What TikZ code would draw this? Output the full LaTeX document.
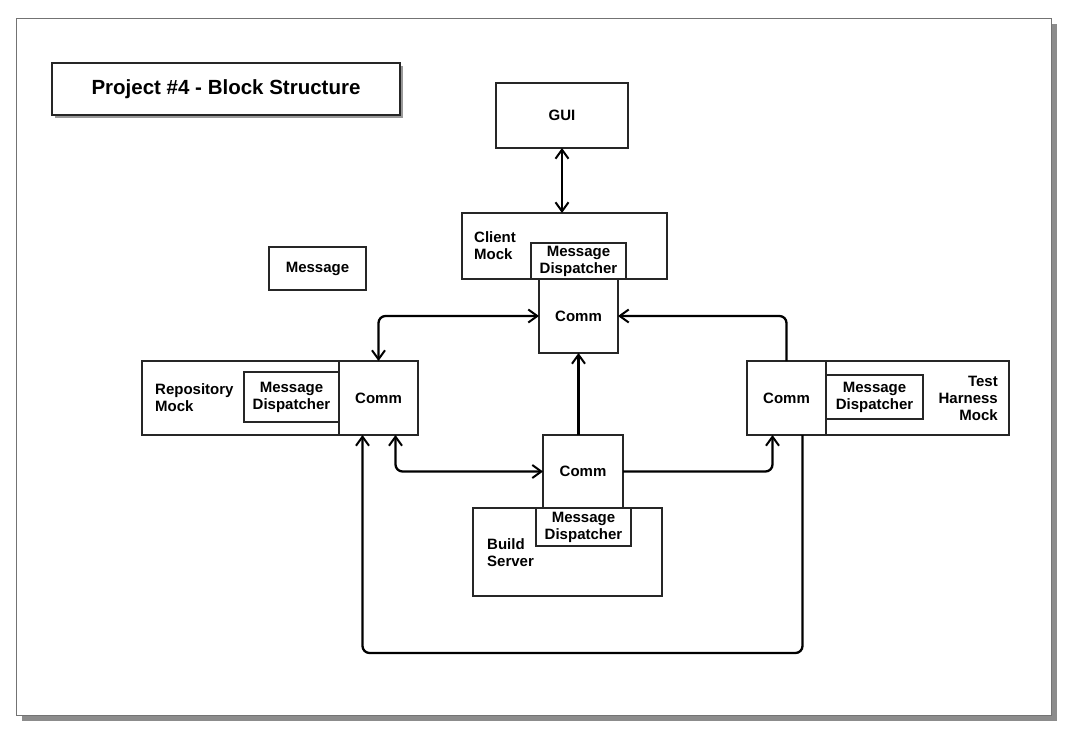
\documentclass[tikz,border=0pt]{standalone}
\usepackage{fontspec}
\setmainfont{Liberation Sans}
\usetikzlibrary{arrows.meta}
\tikzset{
  box/.style={draw=black!85, line width=1.3pt, fill=white, inner sep=0pt, outer sep=0pt,
    font=\bfseries\fontsize{15}{17}\selectfont, align=center},
  conn/.style={draw=black, line width=2.3pt, rounded corners=7pt,
    arrows={-}, >={Straight Barb[length=9pt,width=13pt,line width=2pt]}},
}
\newcommand{\bx}[6]{% name, x1, y1, x2, y2, text
  \node[box, minimum width={(#4-#2)*1pt}, minimum height={(#5-#3)*1pt}] (#1) at ({(#2+#4)/2},{(#3+#5)/2}) {#6};}
\begin{document}
\begin{tikzpicture}[x=1pt,y=-1pt]
\useasboundingbox (0,0) rectangle (1083,742);
% page frame
\fill[black!45] (22,24) rectangle (1057,721);
\draw[fill=white, draw=black!55, line width=1pt] (16,18) rectangle (1051,715);
% title
\fill[black!40] (55,66) rectangle (403,118);
\node[box, minimum width=348pt, minimum height=52pt, font=\bfseries\fontsize{20.5}{24}\selectfont] (title) at (226,89) {Project \#4 - Block Structure};
% GUI
\bx{gui}{496}{83}{628}{148}{GUI}
% Message
\bx{msg}{269}{247}{366}{290}{Message}
% Client Mock
\bx{cm}{462}{213}{667}{279}{}
\node[font=\bfseries\fontsize{15}{17}\selectfont, align=left, anchor=north west, inner sep=0pt] (cmlab) at (474,231) {Client\\Mock};
\bx{cd}{531}{243}{626}{279}{Message\\Dispatcher}
\bx{cc}{539}{279}{618}{353}{Comm}
% Repository Mock
\bx{rm}{142}{361}{339}{435}{}
\node[font=\bfseries\fontsize{15}{17}\selectfont, align=left, anchor=west, inner sep=0pt] (rmlab) at (155,398) {Repository\\Mock};
\bx{rd}{244}{372}{339}{422}{Message\\Dispatcher}
\bx{rc}{339}{361}{418}{435}{Comm}
% Test Harness Mock
\bx{tm}{826}{361}{1009}{435}{}
\node[font=\bfseries\fontsize{15}{17}\selectfont, align=right, anchor=east, inner sep=0pt] (tmlab) at (998,398) {Test\\Harness\\Mock};
\bx{td}{826}{375}{923}{419}{Message\\Dispatcher}
\bx{tc}{747}{361}{826}{435}{Comm}
% Build Server
\bx{bm}{473}{508}{662}{596}{}
\node[font=\bfseries\fontsize{15}{17}\selectfont, align=left, anchor=west, inner sep=0pt] (bmlab) at (487,553) {Build\\Server};
\bx{bc}{543}{435}{623}{508}{Comm}
\bx{bd}{536}{508}{631}{546}{Message\\Dispatcher}
% connectors
\coordinate (lb) at (0,653);
\draw[conn,<->] (gui.south) -- (gui.south |- cm.north);
\draw[conn,<->] (cc.west) -| (rc.north);
\draw[conn,->] (tc.north) |- (cc.east);
\draw[conn,->] (cc.south |- bc.north) -- (cc.south);
\draw[conn,<->] ([xshift=17pt]rc.south) |- (bc.west);
\draw[conn,->] (bc.east) -| ([xshift=-14pt]tc.south);
\draw[conn,->] ([xshift=16pt]tc.south) -- ([xshift=16pt]tc.south |- lb) -| ([xshift=-16pt]rc.south);
\end{tikzpicture}
\end{document}
